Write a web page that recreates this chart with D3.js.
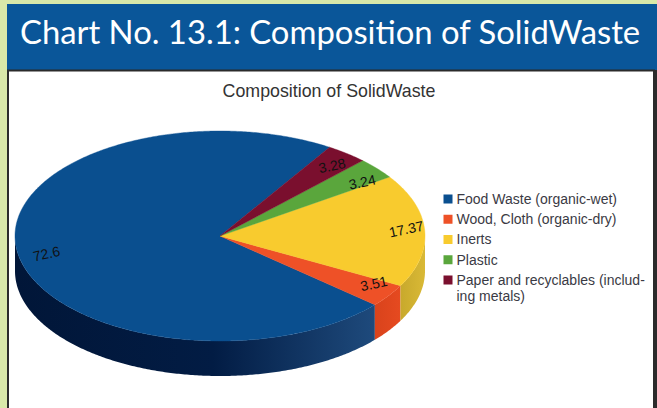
<!DOCTYPE html>
<html>
<head>
<meta charset="utf-8">
<script src="https://cdnjs.cloudflare.com/ajax/libs/d3/7.8.5/d3.min.js"></script>
<style>
  html, body { margin: 0; padding: 0; background: #d9e8a9; overflow: hidden; }
  svg { display: block; }
  text { font-family: "Liberation Sans", sans-serif; }
</style>
</head>
<body>
<svg id="chart" width="657" height="408"></svg>
<script>
// data, in the order of the legend
const categories = ['Food Waste (organic-wet)', 'Wood, Cloth (organic-dry)', 'Inerts', 'Plastic', 'Paper and recyclables (includ-|ing metals)'];
const values = [72.6, 3.51, 17.37, 3.24, 3.28];
const valueLabels = ['72.6', '3.51', '17.37', '3.24', '3.28'];

const topColors = ['#0a4f8f', '#ee5127', '#f8cb2e', '#5aa63c', '#7a0f2e'];
const wallLight = ['#1e4a7c', '#e64a20', '#d9b936', '#5aa63c', '#7a0f2e'];
const wallDark = ['#011638', '#d9431c', '#c8a92c', '#5aa63c', '#7a0f2e'];

// label nudges from the pie's own label ring
const labelNudge = [[9, 4], [2, -6], [2, -2], [1, 7], [-2, 4]];

const svg = d3.select('#chart');

// page frame
svg.append('rect').attr('x', 7).attr('y', 4).attr('width', 650).attr('height', 66).attr('fill', '#0a5699');
svg.append('rect').attr('x', 8).attr('y', 70.5).attr('width', 646).attr('height', 345)
    .attr('fill', '#fff').attr('stroke', '#2b2b2b').attr('stroke-width', 2);
svg.append('rect').attr('x', 655).attr('y', 70).attr('width', 2).attr('height', 338).attr('fill', '#2b2b2b');

svg.append('text')
    .attr('x', 20).attr('y', 44)
    .attr('fill', '#fff')
    .style('font-family', 'Lato, sans-serif')
    .style('font-size', '32.8px')
    .text('Chart No. 13.1: Composition of SolidWaste');

svg.append('text')
    .attr('x', 329).attr('y', 97)
    .attr('text-anchor', 'middle')
    .attr('fill', '#333')
    .style('font-size', '17.8px')
    .text('Composition of SolidWaste');

// pie geometry
const cx = 220, cy = 236, rx = 205, ry = 105, depth = 35;
const x = d3.scaleLinear().domain([-1, 1]).range([cx - rx, cx + rx]);
const y = d3.scaleLinear().domain([-1, 1]).range([cy - ry, cy + ry]);

const startAngle = 32.3 * Math.PI / 180;
const pie = d3.pie().sort(null).startAngle(startAngle).endAngle(startAngle - 2 * Math.PI);
const slices = pie(values);

const px = a => x(Math.sin(a));
const py = a => y(-Math.cos(a));

function sample(a0, a1) {
    const n = Math.max(2, Math.ceil(Math.abs(a1 - a0) / 0.01));
    return d3.range(n + 1).map(i => a0 + (a1 - a0) * i / n);
}

const line = d3.line();
const defs = svg.append('defs');

// side walls: only the front half of the rim shows
slices.forEach((s, i) => {
    let hi = s.startAngle, lo = s.endAngle;
    // normalise to 0..2pi and clip to the front half (pie angle 90..270 deg)
    const norm = a => ((a % (2 * Math.PI)) + 2 * Math.PI) % (2 * Math.PI);
    let a0 = norm(lo), a1 = a0 + (hi - lo);
    const from = Math.max(a0, Math.PI / 2), to = Math.min(a1, 3 * Math.PI / 2);
    if (to <= from) return;

    const grad = defs.append('linearGradient')
        .attr('id', 'wall' + i)
        .attr('gradientUnits', 'userSpaceOnUse')
        .attr('x1', px(to)).attr('x2', px(from)).attr('y1', 0).attr('y2', 0);
    grad.append('stop').attr('offset', '0%').attr('stop-color', wallDark[i]);
    if (i === 0) grad.append('stop').attr('offset', '55%').attr('stop-color', '#021c44');
    grad.append('stop').attr('offset', '100%').attr('stop-color', wallLight[i]);

    const angles = sample(from, to);
    const pts = angles.map(a => [px(a), py(a)])
        .concat(angles.slice().reverse().map(a => [px(a), py(a) + depth]));
    svg.append('path')
        .attr('d', line(pts) + 'Z')
        .attr('fill', `url(#wall${i})`);
});

// top face
slices.forEach((s, i) => {
    const pts = [[cx, cy]].concat(sample(s.startAngle, s.endAngle).map(a => [px(a), py(a)]));
    svg.append('path')
        .attr('d', line(pts) + 'Z')
        .attr('fill', topColors[i])
        .attr('stroke', topColors[i])
        .attr('stroke-width', 0.4);
});

// value labels
const labelRing = 0.9;
slices.forEach((s, i) => {
    const mid = (s.startAngle + s.endAngle) / 2;
    const lx = x(Math.sin(mid) * labelRing) + labelNudge[i][0];
    const ly = y(-Math.cos(mid) * labelRing) + labelNudge[i][1];
    svg.append('text')
        .attr('transform', `translate(${lx},${ly}) rotate(-12)`)
        .attr('text-anchor', 'middle')
        .attr('dy', '0.35em')
        .attr('fill', '#111')
        .style('font-size', '14px')
        .text(valueLabels[i]);
});

// legend
const legendY = d3.scalePoint().domain(categories).range([199, 280]);
const legend = svg.append('g');
categories.forEach((c, i) => {
    const ly = legendY(c);
    legend.append('rect')
        .attr('x', 443.5).attr('y', ly - 4.5)
        .attr('width', 9).attr('height', 9)
        .attr('fill', topColors[i]);
    c.split('|').forEach((part, j) => {
        legend.append('text')
            .attr('x', 456.5).attr('y', ly + j * 16.5)
            .attr('dy', '0.35em')
            .attr('fill', '#3a3a44')
            .style('font-size', '14px')
            .text(part);
    });
});
</script>
</body>
</html>
